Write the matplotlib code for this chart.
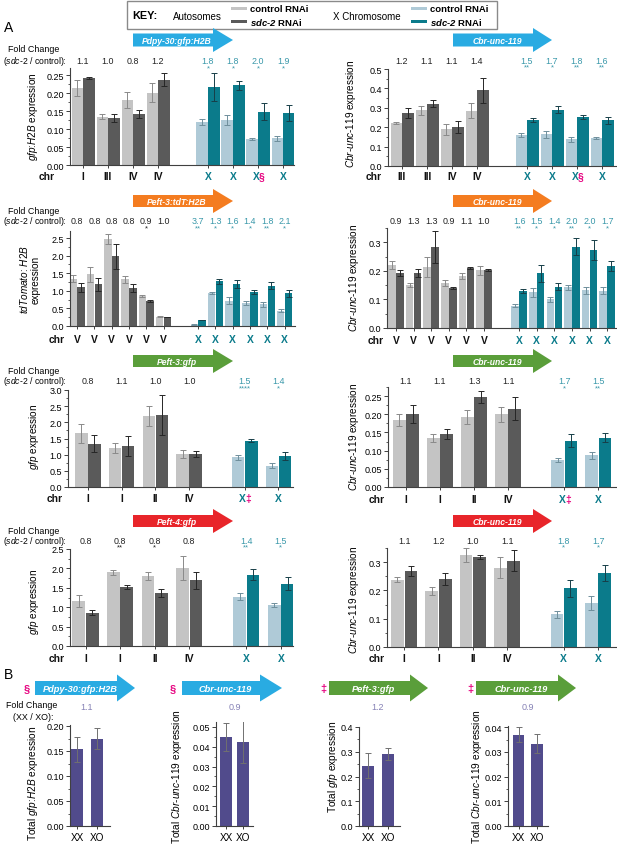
import matplotlib
matplotlib.use("Agg")
import matplotlib.pyplot as plt
import matplotlib.transforms as mtrans
import numpy as np
from matplotlib.patches import Polygon, Rectangle
from matplotlib.ticker import MultipleLocator, AutoMinorLocator, FormatStrFormatter

# ---------------- data ----------------
# row 1 : Pdpy-30:gfp:H2B / Cbr-unc-119
r1l_chr = ["I", "III", "IV", "IV", "X", "X", "X§", "X"]
r1l_ctrl = [0.215, 0.135, 0.181, 0.201, 0.119, 0.125, 0.072, 0.075]
r1l_ctrl_err = [0.022, 0.008, 0.021, 0.027, 0.008, 0.013, 0.003, 0.007]
r1l_sdc = [0.242, 0.131, 0.143, 0.237, 0.217, 0.222, 0.148, 0.144]
r1l_sdc_err = [0.004, 0.010, 0.011, 0.018, 0.040, 0.013, 0.024, 0.022]
r1l_fold = ["1.1", "1.0", "0.8", "1.2", "1.8", "1.8", "2.0", "1.9"]
r1l_sig = ["", "", "", "", "*", "*", "*", "*"]

r1r_chr = ["III", "III", "IV", "IV", "X", "X", "X§", "X"]
r1r_ctrl = [0.222, 0.287, 0.190, 0.285, 0.160, 0.163, 0.137, 0.145]
r1r_ctrl_err = [0.005, 0.022, 0.028, 0.040, 0.012, 0.018, 0.015, 0.007]
r1r_sdc = [0.272, 0.320, 0.200, 0.390, 0.237, 0.290, 0.252, 0.235]
r1r_sdc_err = [0.027, 0.018, 0.030, 0.065, 0.008, 0.018, 0.010, 0.018]
r1r_fold = ["1.2", "1.1", "1.1", "1.4", "1.5", "1.7", "1.8", "1.6"]
r1r_sig = ["", "", "", "", "**", "*", "**", "**"]

# row 2 : Peft-3:tdT:H2B / Cbr-unc-119
r2_chr = ["V"] * 6 + ["X"] * 6
r2l_ctrl = [1.35, 1.47, 2.47, 1.33, 0.85, 0.27, 0.04, 0.93, 0.72, 0.66, 0.62, 0.44]
r2l_ctrl_err = [0.10, 0.22, 0.15, 0.10, 0.02, 0.01, 0.01, 0.03, 0.10, 0.06, 0.07, 0.03]
r2l_sdc = [1.10, 1.18, 1.98, 1.08, 0.72, 0.26, 0.17, 1.27, 1.20, 0.97, 1.15, 0.93]
r2l_sdc_err = [0.12, 0.18, 0.35, 0.12, 0.03, 0.01, 0.01, 0.08, 0.12, 0.05, 0.10, 0.10]
r2l_fold = ["0.8", "0.8", "0.8", "0.8", "0.9", "1.0", "3.7", "1.3", "1.6", "1.4", "1.8", "2.1"]
r2l_sig = ["", "", "", "", "*", "", "**", "*", "*", "*", "**", "*"]

r2r_ctrl = [0.220, 0.150, 0.213, 0.157, 0.183, 0.202, 0.078, 0.125, 0.100, 0.142, 0.132, 0.130]
r2r_ctrl_err = [0.015, 0.007, 0.035, 0.010, 0.010, 0.015, 0.005, 0.015, 0.010, 0.010, 0.012, 0.012]
r2r_sdc = [0.192, 0.192, 0.283, 0.140, 0.210, 0.203, 0.130, 0.192, 0.145, 0.285, 0.272, 0.217]
r2r_sdc_err = [0.010, 0.015, 0.055, 0.005, 0.005, 0.005, 0.007, 0.030, 0.012, 0.030, 0.035, 0.018]
r2r_fold = ["0.9", "1.3", "1.3", "0.9", "1.1", "1.0", "1.6", "1.5", "1.4", "2.0", "2.0", "1.7"]
r2r_sig = ["", "", "", "", "", "", "**", "*", "*", "**", "*", "*"]

# row 3 : Peft-3:gfp / Cbr-unc-119
r3_chr = ["I", "I", "II", "IV", "X‡", "X"]
r3l_ctrl = [1.66, 1.20, 2.20, 1.02, 0.92, 0.66]
r3l_ctrl_err = [0.30, 0.15, 0.32, 0.13, 0.08, 0.07]
r3l_sdc = [1.34, 1.27, 2.22, 1.02, 1.43, 0.97]
r3l_sdc_err = [0.27, 0.30, 0.62, 0.10, 0.05, 0.12]
r3l_fold = ["0.8", "1.1", "1.0", "1.0", "1.5", "1.4"]
r3l_sig = ["", "", "", "", "****", "*"]

r3r_ctrl = [0.185, 0.135, 0.192, 0.200, 0.074, 0.087]
r3r_ctrl_err = [0.016, 0.010, 0.020, 0.020, 0.006, 0.010]
r3r_sdc = [0.200, 0.145, 0.247, 0.215, 0.127, 0.136]
r3r_sdc_err = [0.025, 0.014, 0.017, 0.032, 0.018, 0.012]
r3r_fold = ["1.1", "1.1", "1.3", "1.1", "1.7", "1.5"]
r3r_sig = ["", "", "", "", "*", "**"]

# row 4 : Peft-4:gfp / Cbr-unc-119
r4_chr = ["I", "I", "II", "IV", "X", "X"]
r4l_ctrl = [1.16, 1.90, 1.81, 2.01, 1.27, 1.05]
r4l_ctrl_err = [0.16, 0.07, 0.10, 0.30, 0.09, 0.05]
r4l_sdc = [0.86, 1.52, 1.37, 1.69, 1.84, 1.61]
r4l_sdc_err = [0.06, 0.04, 0.10, 0.22, 0.15, 0.17]
r4l_fold = ["0.8", "0.8", "0.8", "0.8", "1.4", "1.5"]
r4l_sig = ["", "**", "*", "", "**", "*"]

r4r_ctrl = [0.238, 0.198, 0.325, 0.280, 0.115, 0.155]
r4r_ctrl_err = [0.008, 0.013, 0.025, 0.037, 0.013, 0.024]
r4r_sdc = [0.270, 0.240, 0.318, 0.305, 0.207, 0.263]
r4r_sdc_err = [0.018, 0.020, 0.008, 0.037, 0.030, 0.028]
r4r_fold = ["1.1", "1.2", "1.0", "1.1", "1.8", "1.7"]
r4r_sig = ["", "", "", "", "*", "*"]

# panel B : XX vs XO totals
b_groups = ["XX", "XO"]
b1_vals = [0.154, 0.175]
b1_err = [0.025, 0.021]
b2_vals = [0.0450, 0.0425]
b2_err = [0.0070, 0.0105]
b3_vals = [0.243, 0.292]
b3_err = [0.050, 0.024]
b4_vals = [0.0370, 0.0333]
b4_err = [0.0030, 0.0038]
b_fold = ["1.1", "0.9", "1.2", "0.9"]

# ---------------- style ----------------
W, H = 617, 854
plt.rcParams['font.family'] = ['Liberation Sans', 'DejaVu Sans']
plt.rcParams['mathtext.fontset'] = 'custom'
plt.rcParams['mathtext.rm'] = 'Liberation Sans'
plt.rcParams['mathtext.it'] = 'Liberation Sans:italic'
plt.rcParams['mathtext.bf'] = 'Liberation Sans:bold'
plt.rcParams['mathtext.bfit'] = 'Liberation Sans:italic:bold'

AUTO_CTRL, AUTO_SDC = "#c4c4c4", "#5a5a5a"
X_CTRL, X_SDC = "#afcad7", "#0b7b8b"
X_TXT = "#3a98aa"
PURPLE = "#514b8c"
MAGENTA = "#e6007e"
BLUE, ORANGE, GREEN, RED = "#29abe2", "#f47c20", "#5a9e3a", "#e8252a"
SPINE = "#404040"

fig = plt.figure(figsize=(W / 100, H / 100), dpi=100)


def fx(x):
    return x / W


def fy(y):
    return 1 - y / H


def add_ax(l, t, r, b):
    return fig.add_axes([fx(l), fy(b), (r - l) / W, (b - t) / H])


def style_axis(ax, ylim, ystep, fmt):
    ax.set_ylim(*ylim)
    ax.yaxis.set_major_locator(MultipleLocator(ystep))
    ax.yaxis.set_major_formatter(FormatStrFormatter(fmt))
    ax.yaxis.set_minor_locator(AutoMinorLocator(2))
    for s in ["top", "right"]:
        ax.spines[s].set_visible(False)
    for s in ["left", "bottom"]:
        ax.spines[s].set_color(SPINE)
        ax.spines[s].set_linewidth(0.8)
    ax.tick_params(axis="y", labelsize=6.5, length=3, width=0.7, color=SPINE, pad=1.5)
    ax.tick_params(axis="y", which="minor", length=1.6, width=0.6, color=SPINE)
    ax.tick_params(axis="x", length=2.5, width=0.7, color=SPINE)
    ax.patch.set_alpha(0)


def arrow(x0, x1, tip, yc, color, label, bh=12, hh=24, fs=6.2):
    pts = [(x0, yc - bh / 2), (x1, yc - bh / 2), (x1, yc - hh / 2), (tip, yc),
           (x1, yc + hh / 2), (x1, yc + bh / 2), (x0, yc + bh / 2)]
    fig.patches.append(Polygon([(fx(a), fy(b)) for a, b in pts], closed=True,
                               transform=fig.transFigure, facecolor=color, edgecolor="none"))
    fig.text(fx((x0 + x1) / 2 + 4), fy(yc + 0.5), label, color="white", fontsize=fs,
             fontweight="bold", fontstyle="italic", ha="center", va="center")


def chr_positions(chrs, x_first):
    pos, k, j = [], 0, 0
    for c in chrs:
        if c.startswith("X"):
            pos.append(x_first + j)
            j += 1
        else:
            pos.append(k)
            k += 1
    return np.array(pos, float)


def expr_panel(rect, xlim, ylim, ystep, fmt, chrs, ctrl, ctrl_e, sdc, sdc_e, fold, sig,
               x_first, bw, y_chr, y_fold, chr_x, ylabel, ylab_xy):
    ax = add_ax(*rect)
    pos = chr_positions(chrs, x_first)
    off = bw / 2 + 0.01
    ekw = dict(elinewidth=0.7, capthick=0.7)
    for p, c, cv, ce, sv, se in zip(pos, chrs, ctrl, ctrl_e, sdc, sdc_e):
        isx = c.startswith("X")
        ax.bar(p - off, cv, bw, color=X_CTRL if isx else AUTO_CTRL, yerr=ce, capsize=2,
               ecolor="#6f8f9c" if isx else "#8a8a8a", error_kw=ekw)
        ax.bar(p + off, sv, bw, color=X_SDC if isx else AUTO_SDC, yerr=se, capsize=2,
               ecolor="#173f48" if isx else "#262626", error_kw=ekw)
    style_axis(ax, ylim, ystep, fmt)
    ax.set_xlim(*xlim)
    ax.set_xticks(pos)
    ax.set_xticklabels([])
    tr = mtrans.blended_transform_factory(ax.transData, fig.transFigure)
    for p, c, f, s in zip(pos, chrs, fold, sig):
        isx = c.startswith("X")
        col = X_TXT if isx else "#222222"
        if isx and len(c) > 1:
            shift = mtrans.ScaledTranslation(-2 / 100, 0, fig.dpi_scale_trans)
            ax.text(p, fy(y_chr), "X", transform=tr + shift, ha="center", va="center",
                    fontsize=7.4, fontweight="bold", color=X_SDC, clip_on=False)
            shift2 = mtrans.ScaledTranslation(3.8 / 100, 0, fig.dpi_scale_trans)
            ax.text(p, fy(y_chr), c[1:], transform=tr + shift2, ha="center", va="center",
                    fontsize=7.4, fontweight="bold", color=MAGENTA, clip_on=False)
        else:
            ax.text(p, fy(y_chr), c, transform=tr, ha="center", va="center", fontsize=7.4,
                    fontweight="bold", color=X_SDC if isx else "#111111", clip_on=False)
        ax.text(p, fy(y_fold), f, transform=tr, ha="center", va="center", fontsize=6.4,
                color=col, clip_on=False)
        if s:
            ax.text(p, fy(y_fold + 6.5), s, transform=tr, ha="center", va="center",
                    fontsize=5.6, color=col, clip_on=False)
    fig.text(fx(chr_x), fy(y_chr), "chr", ha="center", va="center", fontsize=7.4,
             fontweight="bold", color="#111111")
    fig.text(fx(ylab_xy[0]), fy(ylab_xy[1]), ylabel, rotation=90, ha="center", va="center",
             fontsize=7.2, multialignment="center", linespacing=1.1)
    return ax


def fold_header(y_top, y_bot, second):
    fig.text(fx(34), fy(y_top), "Fold Change", ha="center", va="center", fontsize=6.4)
    fig.text(fx(67), fy(y_bot), second, ha="right", va="center", fontsize=6.2)


def total_panel(rect, xlim, ylim, ystep, fmt, vals, err, fold, ylabel, ylab_xy, bw):
    ax = add_ax(*rect)
    x = np.arange(len(b_groups))
    ax.bar(x, vals, bw, color=PURPLE, yerr=err, capsize=2, ecolor="#707070",
           error_kw=dict(elinewidth=0.7, capthick=0.7))
    style_axis(ax, ylim, ystep, fmt)
    ax.set_xlim(*xlim)
    ax.set_xticks(x)
    ax.set_xticklabels(b_groups, fontsize=7.2)
    ax.tick_params(axis="x", pad=1.5)
    tr = mtrans.blended_transform_factory(ax.transData, fig.transFigure)
    ax.text(x.mean(), fy(708), fold, transform=tr, ha="center", va="center", fontsize=6.5,
            color="#8682b6", clip_on=False)
    fig.text(fx(ylab_xy[0]), fy(ylab_xy[1]), ylabel, rotation=90, ha="center", va="center",
             fontsize=7.3)
    return ax


SDC_LBL = r"($\mathit{sdc}$-$\mathit{2}$ / control):"
GFPH2B = r"$\mathit{gfp}$:$\mathit{H2B}$ expression"
CBR = r"$\mathit{Cbr}$-$\mathit{unc}$-$\mathit{119}$ expression"

# ---------------- key ----------------
fig.patches.append(Rectangle((fx(127), fy(30)), 370 / W, 28 / H, transform=fig.transFigure,
                             facecolor="white", edgecolor="#8a8a8a", linewidth=1.0))
fig.text(fx(132), fy(16), "KEY:", fontsize=7.8, fontweight="bold", va="center")
fig.text(fx(173), fy(16.5), "Autosomes", fontsize=7.0, va="center")
fig.text(fx(333), fy(16.5), "X Chromosome", fontsize=7.0, va="center")
for xs, c1, c2 in [(231, AUTO_CTRL, AUTO_SDC), (411, X_CTRL, X_SDC)]:
    fig.patches.append(Rectangle((fx(xs), fy(11)), 16 / W, 3.5 / H, transform=fig.transFigure,
                                 facecolor=c1, edgecolor="none"))
    fig.patches.append(Rectangle((fx(xs), fy(24)), 16 / W, 3.5 / H, transform=fig.transFigure,
                                 facecolor=c2, edgecolor="none"))
    fig.text(fx(xs + 19), fy(9), "control RNAi", fontsize=6.8, fontweight="bold", va="center")
    fig.text(fx(xs + 19), fy(22.5), r"$\mathbfit{sdc}$-$\mathbfit{2}$ RNAi", fontsize=6.8,
             fontweight="bold", va="center")

fig.text(fx(4), fy(28), "A", fontsize=10, va="center")
fig.text(fx(4), fy(675), "B", fontsize=10, va="center")

# ---------------- row 1 ----------------
arrow(133, 213, 233, 41, BLUE, "Pdpy-30:gfp:H2B", bh=13)
arrow(453, 533, 552, 41, BLUE, "Cbr-unc-119", bh=13)
fold_header(50, 62, SDC_LBL)
expr_panel((70, 69, 294, 166), (-0.52, 8.44), (0, 0.27), 0.05, "%.2f", r1l_chr, r1l_ctrl,
           r1l_ctrl_err, r1l_sdc, r1l_sdc_err, r1l_fold, r1l_sig, 5, 0.45, 177, 62, 47,
           GFPH2B, (33, 117))
expr_panel((388, 70, 617, 167), (-0.56, 8.6), (0, 0.5), 0.1, "%.1f", r1r_chr, r1r_ctrl,
           r1r_ctrl_err, r1r_sdc, r1r_sdc_err, r1r_fold, r1r_sig, 5, 0.45, 177, 61, 374,
           CBR, (351, 114))

# ---------------- row 2 ----------------
arrow(133, 213, 233, 202, ORANGE, "Peft-3:tdT:H2B")
arrow(453, 533, 552, 202, ORANGE, "Cbr-unc-119")
fold_header(212, 222, SDC_LBL)
expr_panel((70, 232, 295, 327), (-0.41, 12.6), (0, 2.7), 0.5, "%.1f", r2_chr, r2l_ctrl,
           r2l_ctrl_err, r2l_sdc, r2l_sdc_err, r2l_fold, r2l_sig, 7, 0.43, 340, 222, 57,
           "$\\mathit{tdTomato}$: $\\mathit{H2B}$\nexpression", (29, 280))
expr_panel((387, 229, 617, 329), (-0.51, 12.56), (0, 0.35), 0.1, "%.1f", r2_chr, r2r_ctrl,
           r2r_ctrl_err, r2r_sdc, r2r_sdc_err, r2r_fold, r2r_sig, 7, 0.43, 341, 222, 376,
           CBR, (354, 278))

# ---------------- row 3 ----------------
arrow(133, 213, 233, 362, GREEN, "Peft-3:gfp")
arrow(453, 533, 552, 362, GREEN, "Cbr-unc-119")
fold_header(372, 382, SDC_LBL)
expr_panel((68, 391, 293, 488), (-0.59, 6.08), (0, 3.0), 0.5, "%.1f", r3_chr, r3l_ctrl,
           r3l_ctrl_err, r3l_sdc, r3l_sdc_err, r3l_fold, r3l_sig, 4.65, 0.37, 499, 382, 55,
           r"$\mathit{gfp}$ expression", (34, 437))
expr_panel((388, 388, 617, 488), (-0.53, 6.2), (0, 0.275), 0.05, "%.2f", r3_chr, r3r_ctrl,
           r3r_ctrl_err, r3r_sdc, r3r_sdc_err, r3r_fold, r3r_sig, 4.65, 0.37, 500, 382, 377,
           CBR, (354, 437))

# ---------------- row 4 ----------------
arrow(133, 213, 233, 522, RED, "Peft-4:gfp")
arrow(453, 533, 552, 522, RED, "Cbr-unc-119")
fold_header(531, 541, SDC_LBL)
expr_panel((70, 550, 293, 647), (-0.45, 6.0), (0, 2.5), 0.5, "%.1f", r4_chr, r4l_ctrl,
           r4l_ctrl_err, r4l_sdc, r4l_sdc_err, r4l_fold, r4l_sig, 4.65, 0.37, 659, 541, 57,
           r"$\mathit{gfp}$ expression", (34, 602))
expr_panel((387, 549, 617, 648), (-0.5, 6.2), (0, 0.35), 0.1, "%.1f", r4_chr, r4r_ctrl,
           r4r_ctrl_err, r4r_sdc, r4r_sdc_err, r4r_fold, r4r_sig, 4.65, 0.37, 659, 541, 377,
           CBR, (354, 600))

# ---------------- panel B ----------------
arrow(35, 117, 135, 689, BLUE, "Pdpy-30:gfp:H2B", bh=14, hh=27, fs=6.7)
arrow(182, 260, 282, 689, BLUE, "Cbr-unc-119", bh=14, hh=27, fs=6.7)
arrow(329, 410, 428, 689, GREEN, "Peft-3:gfp", bh=14, hh=27, fs=6.7)
arrow(476, 558, 576, 689, GREEN, "Cbr-unc-119", bh=14, hh=27, fs=6.7)
for xm, mark in [(27, "§"), (173, "§"), (323, "‡"), (470, "‡")]:
    fig.text(fx(xm), fy(689), mark, color=MAGENTA, fontsize=8, fontweight="bold",
             ha="center", va="center")
fig.text(fx(32), fy(706), "Fold Change", ha="center", va="center", fontsize=6.4)
fig.text(fx(33), fy(717), "(XX / XO):", ha="center", va="center", fontsize=6.4)

total_panel((70, 726, 110, 827), (-0.35, 1.65), (0, 0.202), 0.05, "%.2f", b1_vals, b1_err,
            b_fold[0], r"Total $\mathit{gfp}$:$\mathit{H2B}$ expression", (33, 783), 0.6)
total_panel((216, 723, 253, 827), (-0.59, 1.59), (0, 0.0525), 0.01, "%.2f", b2_vals, b2_err,
            b_fold[1], r"Total $\mathit{Cbr}$-$\mathit{unc}$-$\mathit{119}$ expression",
            (177, 777), 0.7)
total_panel((359, 728, 400, 827), (-0.45, 1.6), (0, 0.4), 0.1, "%.1f", b3_vals, b3_err,
            b_fold[2], r"Total $\mathit{gfp}$ expression", (333, 767), 0.63)
total_panel((508, 727, 548, 827), (-0.57, 1.6), (0, 0.0405), 0.01, "%.2f", b4_vals, b4_err,
            b_fold[3], r"Total $\mathit{Cbr}$-$\mathit{unc}$-$\mathit{119}$ expression",
            (477, 777), 0.65)

fig.savefig("out.png", dpi=100)
